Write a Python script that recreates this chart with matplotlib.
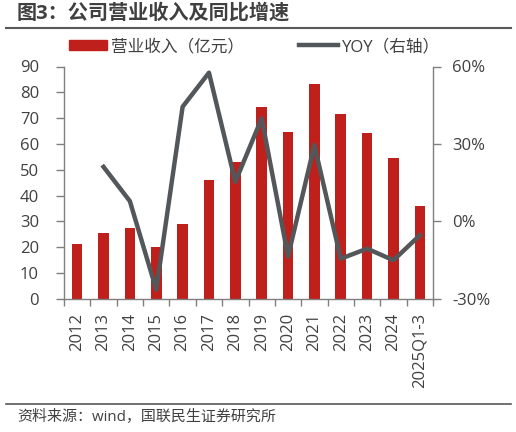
import matplotlib
matplotlib.use('Agg')
import matplotlib.pyplot as plt
import matplotlib.patches as mpatches
from matplotlib.lines import Line2D
from matplotlib.ticker import FuncFormatter

plt.rcParams['font.family'] = ['Open Sans', 'Noto Sans CJK SC', 'DejaVu Sans']

years = ['2012', '2013', '2014', '2015', '2016', '2017', '2018', '2019',
         '2020', '2021', '2022', '2023', '2024', '2025Q1-3']
revenue = [21.1, 25.3, 27.3, 20.2, 29.1, 45.9, 53.1, 74.2, 64.5, 83.2,
           71.5, 64.1, 54.4, 35.9]
yoy = [None, 21.1, 7.8, -26.5, 44.4, 57.6, 15.3, 39.9, -13.6, 29.5,
       -14.5, -10.6, -15.1, -5.4]

bar_color = '#C0201C'
line_color = '#54575A'
text_color = '#404040'
axis_color = '#7F7F7F'

fig = plt.figure(figsize=(5.16, 4.32), dpi=100)
ax = fig.add_axes([64 / 516, 1 - 298.7 / 432, 369 / 516, 232.2 / 432])
ax2 = ax.twinx()

x = list(range(len(years)))
ax.bar(x, revenue, width=0.4, color=bar_color, zorder=2)
xs = [i for i, v in zip(x, yoy) if v is not None]
ys = [v for v in yoy if v is not None]
ax2.plot(xs, ys, color=line_color, linewidth=3.2, zorder=3)

ax.set_xlim(-0.5, len(years) - 0.5)
ax.set_ylim(0, 90)
ax.set_yticks(range(0, 91, 10))
ax2.set_ylim(-30, 60)
ax2.set_yticks([-30, 0, 30, 60])
ax2.yaxis.set_major_formatter(FuncFormatter(lambda v, p: '%d%%' % v))

ax.set_xticks(x)
ax.set_xticklabels(years, rotation=90)
ax.set_xticks([i - 0.5 for i in range(len(years) + 1)], minor=True)
ax.tick_params(axis='x', which='major', length=0, pad=10, labelsize=12, colors=text_color)
ax.tick_params(axis='x', which='minor', length=5, color=axis_color, width=1)
ax.tick_params(axis='y', length=6, color=axis_color, width=1, labelsize=12,
               labelcolor=text_color, pad=12)
ax2.tick_params(axis='y', length=6, color=axis_color, width=1, labelsize=12,
                labelcolor=text_color, pad=8)

for a in (ax, ax2):
    a.spines['top'].set_visible(False)
    for s in ('left', 'right', 'bottom'):
        a.spines[s].set_color(axis_color)
        a.spines[s].set_linewidth(1)
ax.spines['right'].set_visible(False)
ax2.spines['left'].set_visible(False)
ax2.spines['bottom'].set_visible(False)

# legend
red_patch = mpatches.Patch(color=bar_color, label='营业收入（亿元）')
gray_line = Line2D([], [], color=line_color, linewidth=3.2, label='YOY（右轴）')
fig.legend(handles=[red_patch, gray_line], loc='center left',
           bbox_to_anchor=(62 / 516, 1 - 47 / 432), ncol=2, frameon=False,
           fontsize=12, handlelength=2.3, handleheight=0.6, handletextpad=0.25,
           columnspacing=3.3, labelcolor=text_color, borderaxespad=0)

# title and source
fig.text(17 / 516, 1 - 14 / 432, '图3：公司营业收入及同比增速', fontsize=14.5,
         fontweight='bold', color=text_color, va='center', ha='left')
fig.add_artist(Line2D([6 / 516, 511 / 516], [1 - 27.5 / 432] * 2,
                      color='#595959', linewidth=1.5))
fig.add_artist(Line2D([6 / 516, 511 / 516], [1 - 404 / 432] * 2,
                      color='#595959', linewidth=1.2))
fig.text(17 / 516, 1 - 418 / 432, '资料来源：wind，国联民生证券研究所', fontsize=10.8,
         color=text_color, va='center', ha='left')

fig.savefig('out.png', dpi=100)
